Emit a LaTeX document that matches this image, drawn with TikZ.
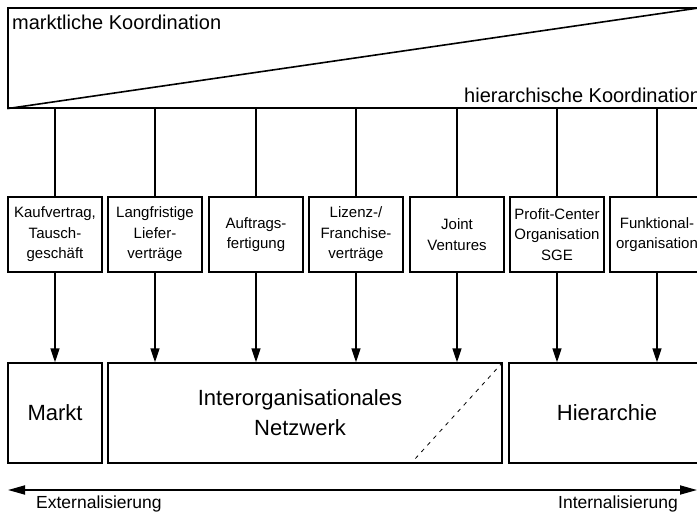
\documentclass[tikz,border=0pt]{standalone}
\usepackage{fontspec}
\setmainfont{Liberation Sans}
\usetikzlibrary{arrows.meta}
\begin{document}
\begin{tikzpicture}[x=1pt,y=-1pt,
  stepbox/.style={draw, line width=1.4pt, minimum width=94pt, minimum height=75pt,
    inner sep=0pt, align=center, font=\fontsize{15}{20.5}\selectfont},
  formbox/.style={draw, line width=1.4pt, minimum height=100pt, inner sep=0pt,
    align=center, font=\fontsize{22}{30}\selectfont},
  biglabel/.style={anchor=base west, inner sep=0pt, font=\fontsize{20}{24}\selectfont},
  axislabel/.style={anchor=base west, inner sep=0pt, font=\fontsize{17.5}{21}\selectfont},
  link/.style={line width=1.6pt},
  flow/.style={line width=1.6pt, -{Triangle[length=14pt,width=9pt]}},
]
\useasboundingbox (0,0) rectangle (697,514);
\clip (0,0) rectangle (697,514);

% coordination band with its diagonal
\node[draw, line width=1.2pt, minimum width=694pt, minimum height=100pt, inner sep=0pt]
  (koord) at (355,58) {};
\draw[line width=1.6pt] (koord.south west) -- (koord.north east);
\node[biglabel] (marktk) at (12,29) {marktliche Koordination};
\node[biglabel] (hierk) at (464,102) {hierarchische Koordination};

% forms of contracts / organisation
\node[stepbox] (b1) at (55,234.5)  {Kaufvertrag,\\Tausch-\\geschäft};
\node[stepbox] (b2) at (155,234.5) {Langfristige\\Liefer-\\verträge};
\node[stepbox] (b3) at (256,234.5) {Auftrags-\\fertigung};
\node[stepbox] (b4) at (356,234.5) {Lizenz-/\\Franchise-\\verträge};
\node[stepbox] (b5) at (457,234.5) {Joint\\Ventures};
\node[stepbox] (b6) at (557,234.5) {Profit-Center\\Organisation\\SGE};
\node[stepbox] (b7) at (657,234.5) {Funktional-\\organisation};

% coordination forms
\node[formbox, minimum width=94pt]  (markt) at (55,413)  {Markt};
\node[formbox, minimum width=394pt] (netz)  at (305,413)
  {\hspace*{-10pt}Interorganisationales\\\hspace*{-10pt}Netzwerk};
\node[formbox, minimum width=196pt] (hier)  at (607,413) {Hierarchie};
\draw[line width=0.8pt, dash pattern=on 4pt off 5pt]
  (netz.north east) -- ([xshift=-92pt]netz.south east);

% links from the band to the boxes
\foreach \b in {b1,b2,b3,b4,b5,b6,b7}
  \draw[link] (koord.south -| \b.north) -- (\b.north);

% arrows down to the coordination forms
\draw[flow] (b1.south) -- (b1.south |- markt.north);
\foreach \b in {b2,b3,b4,b5}
  \draw[flow] (\b.south) -- (\b.south |- netz.north);
\foreach \b in {b6,b7}
  \draw[flow] (\b.south) -- (\b.south |- hier.north);

% externalisation / internalisation axis
\coordinate (ext) at (8,490);
\coordinate (int) at (697,490);
\draw[line width=1.8pt, {Triangle[length=17pt,width=9pt]}-{Triangle[length=17pt,width=9pt]}]
  (ext) -- (int);
\node[axislabel] (extl) at (36,508.5) {Externalisierung};
\node[axislabel] (intl) at (558,508.5) {Internalisierung};
\end{tikzpicture}
\end{document}
